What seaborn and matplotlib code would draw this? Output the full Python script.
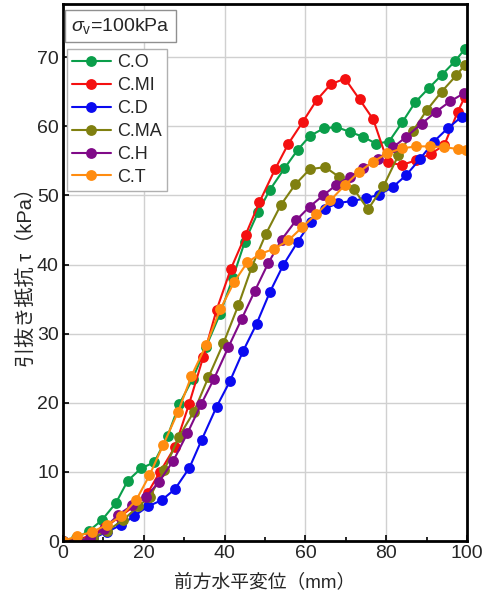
import matplotlib
matplotlib.use("Agg")
import matplotlib.pyplot as plt
import seaborn as sns
import pandas as pd

# ---- data ----
series_names = ["C.O", "C.MI", "C.D", "C.MA", "C.H", "C.T"]

co_x = [0, 3.3, 6.5, 9.6, 13.1, 16, 19.3, 22.6, 25.9, 28.8, 32.1, 35.4, 38.9, 42, 45, 48.3, 51.2, 54.8,
        58.1, 61.1, 64.5, 67.7, 71, 74.2, 77.5, 80.7, 84, 87.2, 90.5, 93.7, 97, 99.5]
co_y = [0, 0.4, 1.5, 3.0, 5.5, 8.7, 10.5, 11.4, 15.2, 19.8, 23.5, 28.1, 32.9, 38, 43.3, 47.6, 50.8, 53.9,
        56.6, 58.6, 59.7, 59.9, 59.2, 58.5, 57.5, 57.8, 60.6, 63.5, 65.5, 67.4, 69.4, 71.2]

cmi_x = [0, 3.5, 7, 10.5, 14, 17.5, 21, 24, 27.7, 31.2, 34.7, 38, 41.5, 45.2, 48.6, 52.5, 55.8, 59.3,
         62.8, 66.3, 69.8, 73.4, 76.8, 80.4, 83.8, 87.5, 91, 94.4, 97.7, 99.5]
cmi_y = [0, 0.2, 0.8, 2.0, 3.5, 5.0, 7.0, 10.0, 13.6, 19.8, 26.6, 33.4, 39.3, 44.3, 49, 53.8, 57.5, 60.6,
         63.8, 66.1, 66.9, 63.9, 61, 54.8, 54.4, 55.1, 56, 57.3, 62.1, 64.3]

cd_x = [0, 4, 7.5, 10.8, 14.3, 17.6, 21, 24.4, 27.7, 31.3, 34.3, 38, 41.3, 44.6, 47.9, 51.2, 54.5, 58.1,
        61.4, 64.9, 68.1, 71.6, 75, 78.2, 81.6, 84.9, 88.4, 91.8, 95.2, 98.7]
cd_y = [0, 0, 0.4, 1.3, 2.3, 3.6, 5, 5.9, 7.5, 10.6, 14.6, 19.4, 23.1, 27.5, 31.4, 36, 39.9, 43.3,
        46.2, 48.1, 48.9, 49.2, 49.6, 50.1, 51.2, 52.9, 55.3, 57.8, 59.7, 61.4]

cma_x = [0, 3.7, 7.4, 11, 14.8, 18.6, 21.5, 25.1, 28.7, 32.4, 36, 39.7, 43.4, 46.7, 50.2, 53.9, 57.5,
         61.1, 64.9, 68.3, 72, 75.5, 79.3, 83, 86.6, 90, 93.7, 97.4, 99.5]
cma_y = [0, 0.1, 0.5, 1.5, 3, 5, 6.4, 10.3, 15.1, 18.7, 23.7, 28.6, 34.1, 39.6, 44.4, 48.6, 51.6,
         53.8, 54.1, 52.7, 50.9, 48, 51.3, 55.8, 59.3, 62.3, 65, 67.4, 68.9]

ch_x = [0, 3.4, 6.8, 10.2, 13.7, 17.2, 20.6, 23.8, 27.3, 30.8, 34.2, 37.4, 40.9, 44.2, 47.5, 50.8, 54.1,
        57.7, 61.1, 64.4, 67.6, 71, 74.3, 78, 81.8, 85, 88.8, 92.3, 95.8, 99.3]
ch_y = [0, 0, 0.4, 1.8, 3.8, 5.2, 6.4, 8.6, 11.6, 15.6, 19.8, 23.5, 28, 32.1, 36.2, 40.2, 43.6,
        46.4, 48.4, 50, 51.5, 52.7, 53.9, 55.3, 57, 58.5, 60.4, 62.1, 63.6, 64.8]

ct_x = [0, 3.4, 7.1, 10.8, 14.4, 18.1, 21.4, 24.8, 28.5, 31.8, 35.4, 38.9, 42.4, 45.6, 48.7, 52.3, 55.8,
        59.2, 62.7, 66.2, 69.8, 73.3, 76.8, 80.3, 83.8, 87.4, 90.8, 94.4, 97.8, 99.7]
ct_y = [0, 0.7, 1.3, 2.3, 3.6, 5.9, 9.5, 13.9, 18.7, 23.9, 28.3, 33.5, 37.5, 40.3, 41.5, 42.3, 43.5,
        45.4, 47.3, 49.3, 51.5, 53.4, 54.9, 56.1, 56.8, 57.1, 57.1, 57, 56.7, 56.6]

x_ticks = [0, 20, 40, 60, 80, 100]
y_ticks = [0, 10, 20, 30, 40, 50, 60, 70]

xs = [co_x, cmi_x, cd_x, cma_x, ch_x, ct_x]
ys = [co_y, cmi_y, cd_y, cma_y, ch_y, ct_y]
colors = ["#0a9e4a", "#f41010", "#0a0af0", "#808010", "#800a88", "#ff8c10"]

frames = []
for name, xv, yv in zip(series_names, xs, ys):
    frames.append(pd.DataFrame({"x": xv, "y": yv, "series": name}))
df = pd.concat(frames, ignore_index=True)

# ---- style ----
sns.set_style("whitegrid")
plt.rcParams["font.family"] = ["Liberation Sans", "Noto Sans CJK JP"]
plt.rcParams["mathtext.fontset"] = "custom"
plt.rcParams["mathtext.rm"] = "Liberation Sans"
plt.rcParams["mathtext.it"] = "Liberation Sans:italic"

fig = plt.figure(figsize=(4.96, 5.98), dpi=100)
ax = fig.add_axes([0.127, 0.0953, 0.8145, 0.898])

for name, col in zip(series_names, colors):
    sub = df[df["series"] == name]
    sns.lineplot(data=sub, x="x", y="y", sort=False, estimator=None, color=col,
                 marker="o", markersize=7.8, markeredgewidth=0, linewidth=1.5,
                 label=name, ax=ax)

ax.set_xlim(0, 100)
ax.set_ylim(0, 77.7)
ax.set_xticks(x_ticks)
ax.set_yticks(y_ticks)
ax.set_xticks([10, 30, 50, 70, 90], minor=True)
ax.grid(True, which="major", color="#d0d0d0", linewidth=1.0)
ax.grid(False, which="minor")
ax.tick_params(axis="both", which="both", direction="in", labelsize=14, color="black",
               length=4, width=1.2, pad=3)
ax.tick_params(axis="x", which="minor", length=3, bottom=True)
ax.tick_params(bottom=True, left=True)
for s in ax.spines.values():
    s.set_color("black")
    s.set_linewidth(2)

ax.set_xlabel("前方水平変位（mm）", fontsize=13.5, labelpad=8)
ax.set_ylabel("引抜き抵抗 τ（kPa）", fontsize=14.5, labelpad=1)

leg = ax.legend(loc="upper left", bbox_to_anchor=(0.009, 0.917), borderaxespad=0,
                fontsize=13, frameon=True, fancybox=False, edgecolor="#b0b0b0",
                handlelength=2.15, handletextpad=0.35, labelspacing=0.33,
                borderpad=0.3, framealpha=1)
leg.get_frame().set_linewidth(1.0)

ax.text(0.0198, 0.978, r"$\sigma_{\rm v}$=100kPa", transform=ax.transAxes, fontsize=14,
        va="top", ha="left",
        bbox=dict(boxstyle="square,pad=0.3", facecolor="white", edgecolor="#909090", linewidth=1.0))

fig.savefig("out.png", dpi=100)
